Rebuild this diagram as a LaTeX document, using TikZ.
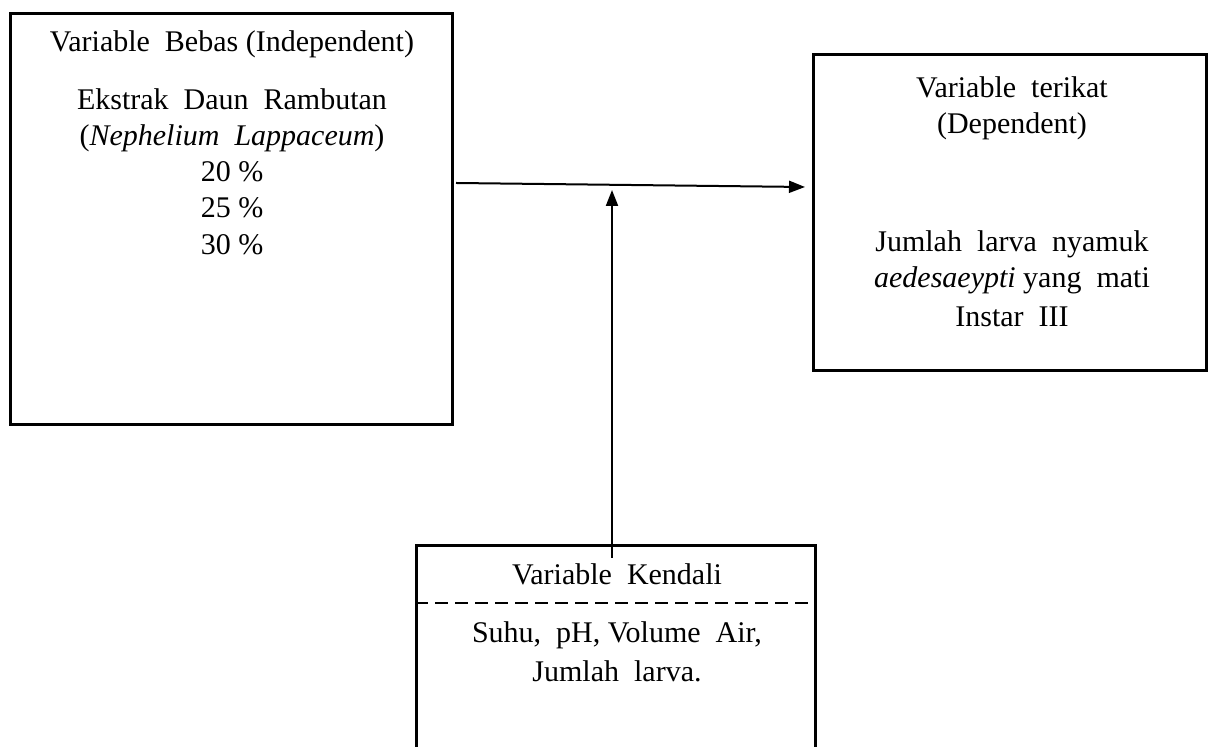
\documentclass[tikz,border=0pt]{standalone}
\usepackage{fontspec}
\setmainfont{Liberation Serif}
\usetikzlibrary{arrows.meta}
\begin{document}
\begin{tikzpicture}[x=0.5pt,y=-0.5pt,
  box/.style={draw, line width=1.5pt, inner sep=0pt, rectangle},
  lbl/.style={anchor=base, inner sep=0pt, font=\fontsize{15}{18}\selectfont},
  conn/.style={line width=1pt, -{Triangle[length=8pt,width=6pt]}},
  sep/.style={line width=1pt, dash pattern=on 6.5pt off 3.5pt}]
\useasboundingbox (0,0) rectangle (1217,747);
\clip (0,0) rectangle (1217,747);
% boxes
\node[box, minimum width=221pt, minimum height=205.5pt] (lb) at (231.5,219) {};
\node[box, minimum width=196.5pt, minimum height=158pt] (rb) at (1010,212.5) {};
\node[box, minimum width=199.5pt, minimum height=127.25pt] (bb) at (616,672.75) {};
\draw[sep] (bb.west |- 0,603) -- (bb.east |- 0,603);
% left texts
\node[lbl] (l1) at (232,52) {Variable\ \ Bebas (Independent)};
\node[lbl] (l2) at (232,110) {Ekstrak\ \ Daun\ \ Rambutan};
\node[lbl] (l3) at (232,146) {(\textit{Nephelium\ \ Lappaceum})};
\node[lbl] (l4) at (232,182) {20 \%};
\node[lbl] (l5) at (232,218) {25 \%};
\node[lbl] (l6) at (232,255) {30 \%};
% right texts
\node[lbl] (r1) at (1012,98) {Variable\ \ terikat};
\node[lbl] (r2) at (1012,134) {(Dependent)};
\node[lbl] (r3) at (1012,252) {Jumlah\ \ larva\ \ nyamuk};
\node[lbl] (r4) at (1012,288) {\textit{aedesaeypti} yang\ \ mati};
\node[lbl] (r5) at (1012,327) {Instar\ \ III};
% bottom texts
\node[lbl] (b1) at (617,585) {Variable\ \ Kendali};
\node[lbl] (b2) at (617,643) {Suhu,\ \ pH, Volume\ \ Air,};
\node[lbl] (b3) at (617,682) {Jumlah\ \ larva.};
% connectors
\coordinate (hs) at ([xshift=1pt]lb.east |- 0,183);
\coordinate (tipR) at ([xshift=-3.5pt]rb.west);
\draw[conn] (hs) -- (tipR |- 0,187);
\coordinate (join) at (612,190);
\coordinate (vs) at ([xshift=-2pt,yshift=-7pt]bb.north);
\draw[conn] (vs) -- (join);
\end{tikzpicture}
\end{document}
